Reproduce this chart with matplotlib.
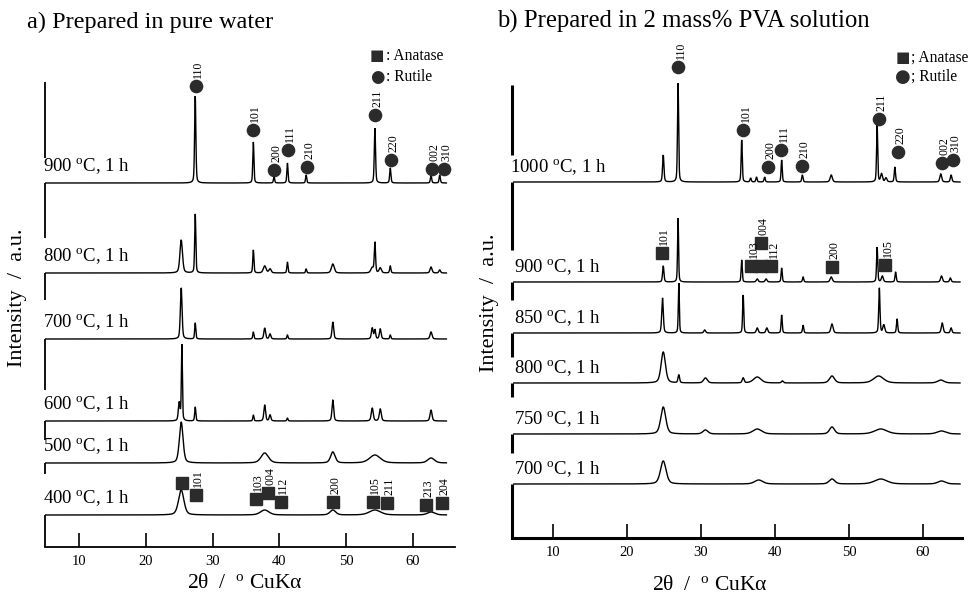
import numpy as np
import matplotlib
matplotlib.use("Agg")
import matplotlib.pyplot as plt

plt.rcParams['font.family'] = ['Liberation Serif', 'DejaVu Serif']
plt.rcParams['mathtext.fontset'] = 'custom'
plt.rcParams['mathtext.rm'] = 'Liberation Serif'
plt.rcParams['mathtext.it'] = 'Liberation Serif:italic'

# ---------------- data: panel a (pure water) ----------------
a_temps = ['900', '800', '700', '600', '500', '400']
a_offsets = [364, 274, 208, 126, 84, 32]          # baseline of each pattern (a.u.)
# peaks: (2theta, height a.u., FWHM deg)
a900 = [(27.4, 87, 0.22), (36.1, 41, 0.2), (39.2, 7, 0.2), (41.2, 20, 0.2), (44.0, 8, 0.2),
        (54.3, 55, 0.22), (56.6, 15, 0.22), (62.7, 8, 0.22), (64.0, 8, 0.22)]
a800 = [(25.3, 33, 0.45), (27.4, 59, 0.2), (36.1, 23, 0.2), (37.8, 7, 0.5), (38.6, 4, 0.4),
        (41.2, 11, 0.2), (44.0, 4, 0.2), (48.0, 9, 0.5), (53.9, 5, 0.5), (54.3, 30, 0.22),
        (55.1, 5, 0.4), (56.6, 7, 0.22), (62.7, 6, 0.35), (64.0, 3, 0.3)]
a700 = [(25.3, 51, 0.3), (27.4, 16, 0.2), (36.1, 7, 0.2), (37.8, 11, 0.3), (38.6, 5, 0.3),
        (41.2, 4, 0.2), (48.0, 17, 0.3), (53.9, 11, 0.3), (54.3, 9, 0.25), (55.1, 10, 0.3),
        (56.6, 4, 0.2), (62.7, 7, 0.35)]
a600 = [(25.0, 18, 0.3), (25.4, 76, 0.18), (27.4, 14, 0.2), (36.1, 6, 0.2), (37.8, 16, 0.3),
        (38.6, 6, 0.3), (41.2, 3, 0.2), (48.0, 21, 0.3), (53.9, 13, 0.35), (55.1, 12, 0.35),
        (62.7, 11, 0.35)]
a500 = [(25.3, 41, 0.65), (37.8, 10, 1.3), (48.0, 11, 0.8), (54.3, 8, 1.9), (62.7, 5, 1.2)]
a400 = [(25.3, 25, 0.95), (37.8, 5, 1.5), (48.0, 5, 1.0), (54.3, 5, 2.0), (62.7, 3, 1.3)]
a_patterns = [a900, a800, a700, a600, a500, a400]

# rutile marks on 900 pattern: (2theta, level a.u., hkl)
a_rutile = [(27.5, 461, '110'), (36.0, 417, '101'), (39.2, 377, '200'), (41.3, 397, '111'),
            (44.2, 380, '210'), (54.3, 432, '211'), (56.7, 387, '220'), (62.8, 378, '002'),
            (64.6, 378, '310')]
# anatase marks on 400 pattern
a_anatase = [(25.4, 64, ''), (27.5, 52, '101'), (36.5, 48, '103'), (38.3, 54, '004'),
             (40.2, 45, '112'), (48.0, 45, '200'), (54.0, 45, '105'), (56.1, 44, '211'),
             (61.9, 42, '213'), (64.3, 44, '204')]

# ---------------- data: panel b (2 mass% PVA) ----------------
b_temps = ['1000', '900', '850', '800', '750', '700']
b_offsets = [356, 256, 205, 155, 104, 54]
b1000 = [(24.9, 27, 0.22), (26.9, 99, 0.18), (35.5, 42, 0.18), (36.7, 4, 0.2), (37.5, 5, 0.2),
         (38.6, 5, 0.2), (40.9, 22, 0.18), (43.7, 7, 0.2), (47.6, 7, 0.35), (53.8, 57, 0.18),
         (54.4, 8, 0.3), (55.0, 4, 0.3), (56.2, 15, 0.2), (62.4, 8, 0.3), (63.8, 7, 0.25)]
b900 = [(24.9, 16, 0.22), (26.9, 64, 0.16), (35.5, 22, 0.18), (37.6, 3, 0.3), (38.8, 3, 0.3),
        (40.9, 14, 0.18), (43.8, 5, 0.2), (47.6, 5, 0.35), (53.8, 35, 0.18), (54.5, 6, 0.3),
        (56.3, 10, 0.2), (62.5, 6, 0.3), (63.7, 4, 0.25)]
b850 = [(24.8, 35, 0.25), (27.0, 50, 0.16), (30.5, 3, 0.3), (35.7, 38, 0.18), (37.6, 5, 0.3),
        (38.9, 5, 0.3), (40.9, 18, 0.18), (43.8, 8, 0.2), (47.7, 9, 0.35), (54.1, 45, 0.2),
        (54.7, 8, 0.3), (56.5, 14, 0.2), (62.6, 10, 0.3), (63.8, 5, 0.25)]
b800 = [(24.9, 31, 0.7), (27.0, 8, 0.25), (30.6, 5, 0.6), (35.7, 5, 0.3), (37.6, 6, 1.2),
        (41.0, 2, 0.3), (47.7, 7, 0.8), (54.0, 7, 1.6), (62.4, 3, 1.0)]
b750 = [(24.9, 27, 0.8), (30.6, 4, 0.8), (37.6, 5, 1.4), (47.7, 7, 0.8), (54.3, 5, 2.0),
        (62.5, 3, 1.4)]
b700 = [(24.9, 23, 0.9), (37.8, 4, 1.3), (47.7, 5, 0.9), (54.3, 5, 2.0), (62.5, 3, 1.2)]
b_patterns = [b1000, b900, b850, b800, b750, b700]

b_rutile = [(26.9, 471, '110'), (35.7, 408, '101'), (39.1, 371, '200'), (40.8, 388, '111'),
            (43.6, 372, '210'), (54.1, 419, '211'), (56.6, 386, '220'), (62.6, 375, '002'),
            (64.1, 378, '310')]
b_anatase = [(24.7, 285, '101'), (36.8, 272, '103'), (38.1, 295, '004'), (38.1, 272, ''),
             (39.5, 272, '112'), (47.7, 271, '200'), (54.9, 273, '105')]

xticks = [10, 20, 30, 40, 50, 60]

# ---------------- drawing ----------------
W, H = 972, 596
fig = plt.figure(figsize=(W / 100, H / 100), dpi=100)


def profile(x, peaks):
    y = np.zeros_like(x)
    for c, h, w in peaks:
        g = np.exp(-4 * np.log(2) * ((x - c) / w) ** 2)
        l = 1.0 / (1.0 + ((x - c) / (w / 2)) ** 2)
        y += h * (0.6 * g + 0.4 * l)
    return y


def make_axes(x0px, deg0, pxdeg, xmin, xmax, axis_px, top_px):
    left = x0px + pxdeg * (xmin - deg0)
    right = x0px + pxdeg * (xmax - deg0)
    ax = fig.add_axes([left / W, (H - axis_px) / H, (right - left) / W, (axis_px - top_px) / H])
    ax.set_xlim(xmin, xmax)
    ax.set_ylim(0, axis_px - top_px)
    for s in ['left', 'right', 'top']:
        ax.spines[s].set_visible(False)
    ax.patch.set_alpha(0)
    ax.set_yticks([])
    ax.set_xticks(xticks)
    ax.tick_params(axis='x', direction='in', length=10, width=1.2, labelsize=10.5, pad=6)
    return ax


def draw_panel(ax, patterns, offsets, temps, xstart, label_x, label_dy, seg, lw_axis,
               rutile, anatase, rut_font):
    x = np.linspace(xstart, 65, 5000)
    for pk, off in zip(patterns, offsets):
        ax.plot(x, off + profile(x, pk), color='black', lw=1.0, solid_joinstyle='miter')
    for t, off in zip(temps, offsets):
        ax.text(label_x, off + label_dy, t + r' $^{\rm o}$C, 1 h', fontsize=13.5,
                ha='left', va='center', clip_on=False)
    for y0, y1 in seg:
        ax.plot([ax.get_xlim()[0]] * 2, [y0, y1], color='black', lw=lw_axis,
                solid_capstyle='butt', clip_on=False)
    ax.spines['bottom'].set_linewidth(lw_axis)
    for c, lev, hkl in rutile:
        ax.plot(c, lev, 'o', ms=8.8, color='#2b2b2b', mec='#2b2b2b', clip_on=False)
        if hkl:
            ax.text(c + 0.35, lev + 8, hkl, rotation=90, fontsize=rut_font, ha='center',
                    va='bottom', clip_on=False)
    for c, lev, hkl in anatase:
        ax.plot(c, lev, 's', ms=8.2, color='#2b2b2b', mec='#2b2b2b', clip_on=False)
        if hkl:
            ax.text(c + 0.35, lev + 8, hkl, rotation=90, fontsize=rut_font, ha='center',
                    va='bottom', clip_on=False)


# panel a
axa = make_axes(45.6, 5, 6.68, 4.9, 66.3, 547, 30)
seg_a = [(547 - p1, 547 - p0) for p0, p1 in
         [(82, 158), (183, 238), (273, 300), (339, 390), (421, 440), (463, 474), (515, 547)]]
draw_panel(axa, a_patterns, a_offsets, a_temps, 5.0, 4.55, 17, seg_a, 1.3,
           a_rutile, a_anatase, 8.5)

# panel b
axb = make_axes(516, 5, 7.4, 4.5, 65.3, 538, 30)
seg_b = [(538 - p1, 538 - p0) for p0, p1 in
         [(85, 155), (182, 250), (282, 300), (333, 357), (383, 397), (434, 453), (484, 538)]]
draw_panel(axb, b_patterns, b_offsets, b_temps, 4.7, 4.7, 15, seg_b, 2.2,
           b_rutile, b_anatase, 8.5)
axb.texts[0].set_x(4.2)

# titles
fig.text(27 / W, 1 - 22 / H, 'a) Prepared in pure water', fontsize=17.5, ha='left', va='center')
fig.text(497 / W, 1 - 21 / H, 'b) Prepared in 2 mass% PVA solution', fontsize=17.8,
         ha='left', va='center')

# y labels
fig.text(18 / W, 1 - 298 / H, 'Intensity  /  a.u.', fontsize=16, rotation=90,
         ha='center', va='center')
fig.text(489 / W, 1 - 303 / H, 'Intensity  /  a.u.', fontsize=16, rotation=90,
         ha='center', va='center')

# x labels
fig.text(245 / W, 1 - 584 / H, r'2θ  /  $^{\rm o}$ CuKα', fontsize=15.5, ha='center',
         va='center')
fig.text(710 / W, 1 - 585 / H, r'2θ  /  $^{\rm o}$ CuKα', fontsize=15.5, ha='center',
         va='center')

# legends
fig.text(377 / W, 1 - 56 / H, '■', fontsize=11, ha='center', va='center', color='#2b2b2b',
         family='DejaVu Sans')
fig.text(386 / W, 1 - 56 / H, ': Anatase', fontsize=11.2, ha='left', va='center')
fig.text(377 / W, 1 - 77 / H, '●', fontsize=12, ha='center', va='center', color='#2b2b2b',
         family='DejaVu Sans')
fig.text(386 / W, 1 - 77 / H, ': Rutile', fontsize=11.2, ha='left', va='center')

fig.text(903 / W, 1 - 58 / H, '■', fontsize=11, ha='center', va='center', color='#2b2b2b',
         family='DejaVu Sans')
fig.text(911 / W, 1 - 58 / H, '; Anatase', fontsize=11.2, ha='left', va='center')
fig.text(903 / W, 1 - 77 / H, '●', fontsize=13, ha='center', va='center', color='#2b2b2b',
         family='DejaVu Sans')
fig.text(911 / W, 1 - 77 / H, '; Rutile', fontsize=11.2, ha='left', va='center')

fig.savefig('out.png', dpi=100)
